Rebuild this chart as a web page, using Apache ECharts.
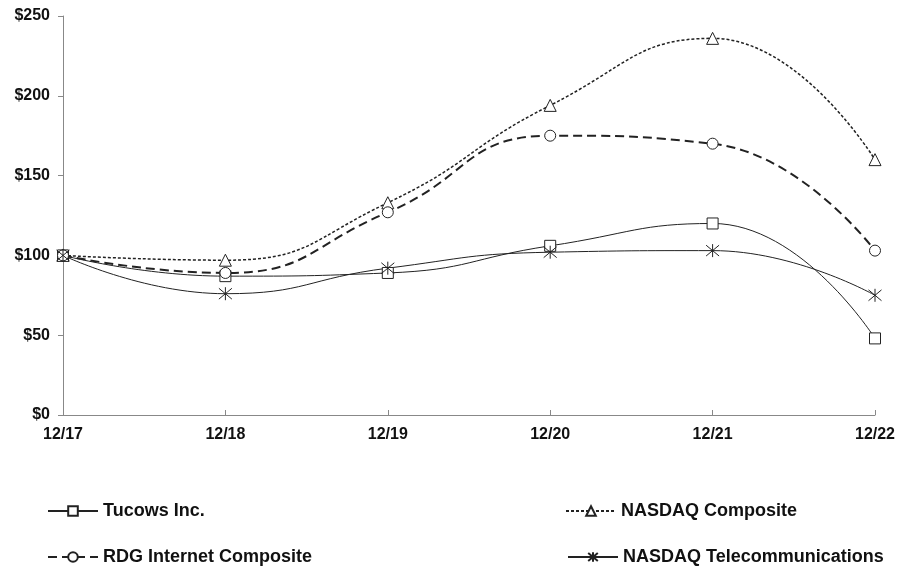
<!DOCTYPE html>
<html><head><meta charset="utf-8">
<script src="https://cdn.jsdelivr.net/npm/echarts@6/dist/echarts.min.js"></script>
<style>html,body{margin:0;padding:0;background:#fff}#c{width:900px;height:575px}</style>
</head><body><div id="c"></div>
<script>
const categories = ['12/17','12/18','12/19','12/20','12/21','12/22'];
const tucows = [100, 87, 89, 106, 120, 48];
const nasdaqComposite = [100, 97, 133, 194, 236, 160];
const rdgInternet = [100, 89, 127, 175, 170, 103];
const nasdaqTelecom = [100, 76, 92, 102, 103, 75];
const yTicks = [0, 50, 100, 150, 200, 250];

const asterisk = 'path://M0,0L10,10M10,0L0,10M5,-1L5,11';
const chart = echarts.init(document.getElementById('c'));
const font = {fontFamily:'Liberation Sans, Arial, sans-serif', fontWeight:'bold', color:'#111'};
function mk(name, data, sym, size, lineType, width){
  return {name, type:'line', data, smooth:0.5, symbol:sym, symbolSize:size,
    lineStyle:{color:'#222', width, type:lineType},
    itemStyle:{color:'#fff', borderColor:'#222', borderWidth:1},
    emphasis:{disabled:true}, z: 2};
}
const tel = mk('NASDAQ Telecommunications', nasdaqTelecom, asterisk, 13, 'solid', 1);
tel.itemStyle = {color:'none', borderColor:'#222', borderWidth:1};
const legText = Object.assign({fontSize:18}, font);
chart.setOption({
  animation:false,
  grid:{left:63, right:25, top:16, bottom:160},
  xAxis:{type:'category', data:categories, boundaryGap:false,
    axisLine:{lineStyle:{color:'#888', width:1}},
    axisTick:{show:true, inside:true, length:5, lineStyle:{color:'#888'}},
    axisLabel:Object.assign({fontSize:16, margin:12}, font)},
  yAxis:{type:'value', min:0, max:250, interval:50,
    axisLine:{show:true, lineStyle:{color:'#888'}},
    axisTick:{show:true, length:5, lineStyle:{color:'#888'}},
    splitLine:{show:false},
    axisLabel:Object.assign({fontSize:16, margin:13, formatter:v=>'$'+v}, font)},
  legend:[
    {data:['Tucows Inc.'], left:42, top:497, itemWidth:50, itemHeight:12, textStyle:legText},
    {data:['RDG Internet Composite'], left:42, top:543, itemWidth:50, itemHeight:12, textStyle:legText},
    {data:['NASDAQ Composite'], left:560, top:497, itemWidth:50, itemHeight:12, textStyle:legText},
    {data:['NASDAQ Telecommunications'], left:562, top:543, itemWidth:50, itemHeight:12, textStyle:legText}
  ],
  series:[
    mk('Tucows Inc.', tucows, 'rect', 11, 'solid', 1),
    mk('NASDAQ Composite', nasdaqComposite, 'triangle', 12, [3,2], 1.5),
    mk('RDG Internet Composite', rdgInternet, 'circle', 11, [9,5], 2),
    tel
  ]
});
</script></body></html>
